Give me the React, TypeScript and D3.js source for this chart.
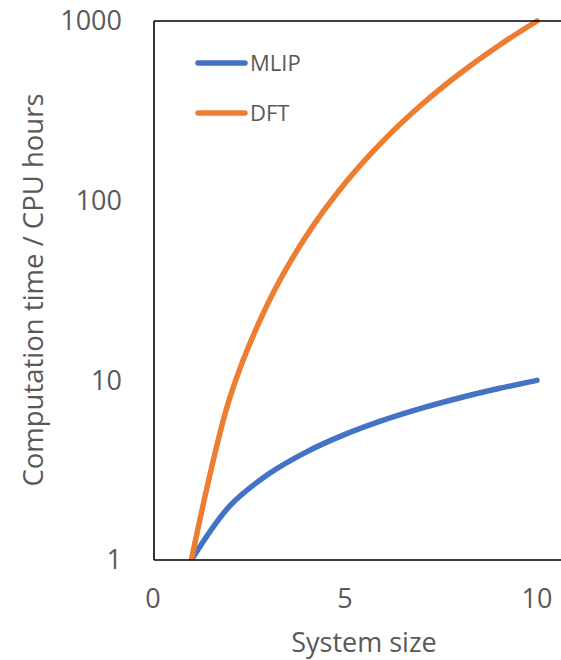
import React from "react";
import * as d3 from "d3";

// system size vs computation time (log scale)
const sizes = [1, 2, 3, 4, 5, 6, 7, 8, 9, 10];
const mlip = [1, 2, 3, 4, 5, 6, 7, 8, 9, 10];
const dft = [1, 8, 27, 64, 125, 216, 343, 512, 729, 1000];
const xTicks = [0, 5, 10];
const yTicks = [1, 10, 100, 1000];

const series = [
  { name: "MLIP", values: mlip, color: "#4472C4" },
  { name: "DFT", values: dft, color: "#ED7D31" },
];

const W = 561;
const H = 660;
const margin = { top: 21, right: 0, bottom: 100, left: 154 };
const font = "'Open Sans', sans-serif";
const textColor = "#595959";

export default function App() {
  const x = d3.scaleLinear().domain([0, 10]).range([153, 537]);
  const y = d3.scaleLog().domain([1, 1000]).range([H - margin.bottom, margin.top]);

  const line = d3
    .line<number>()
    .x((_, i) => x(sizes[i]))
    .y((d) => y(d))
    .curve(d3.curveCatmullRom.alpha(0.5));

  const bottom = H - margin.bottom;

  return (
    <svg
      width={W}
      height={H}
      style={{ position: "absolute", left: 0, top: 0, background: "white" }}
    >
      <defs>
        <clipPath id="plot-clip">
          <rect x={margin.left} y={0} width={W} height={bottom} />
        </clipPath>
      </defs>

      <g clipPath="url(#plot-clip)">
        {series.map((s) => (
          <path
            key={s.name}
            d={line(s.values) || ""}
            fill="none"
            stroke={s.color}
            strokeWidth={5.5}
            strokeLinecap="round"
            strokeLinejoin="round"
          />
        ))}
      </g>

      {/* plot area border */}
      <line x1={margin.left} x2={W + 5} y1={margin.top} y2={margin.top} stroke="#000" strokeWidth={1.6} />
      <line x1={margin.left} x2={W + 5} y1={bottom} y2={bottom} stroke="#000" strokeWidth={1.6} />
      <line x1={margin.left} x2={margin.left} y1={margin.top} y2={bottom} stroke="#000" strokeWidth={1.6} />

      {/* y ticks */}
      {yTicks.map((t) => (
        <text
          key={t}
          x={122}
          y={y(t)}
          dy="0.35em"
          textAnchor="end"
          fontFamily={font}
          fontSize={27}
          fill={textColor}
        >
          {t}
        </text>
      ))}

      {/* x ticks */}
      {xTicks.map((t) => (
        <text
          key={t}
          x={x(t)}
          y={608}
          textAnchor="middle"
          fontFamily={font}
          fontSize={27}
          fill={textColor}
        >
          {t}
        </text>
      ))}

      <text
        x={364}
        y={652}
        textAnchor="middle"
        fontFamily={font}
        fontSize={27}
        fill={textColor}
      >
        System size
      </text>
      <text
        transform={`translate(43, 290) rotate(-90)`}
        textAnchor="middle"
        fontFamily={font}
        fontSize={27.5}
        fill={textColor}
      >
        Computation time / CPU hours
      </text>

      {/* legend */}
      {series.map((s, i) => (
        <g key={s.name} transform={`translate(198, ${63 + i * 50})`}>
          <line x1={0} x2={47} y1={0} y2={0} stroke={s.color} strokeWidth={5.5} strokeLinecap="round" />
          <text x={52} y={0} dy="0.36em" fontFamily={font} fontSize={22} fill={textColor}>
            {s.name}
          </text>
        </g>
      ))}
    </svg>
  );
}
